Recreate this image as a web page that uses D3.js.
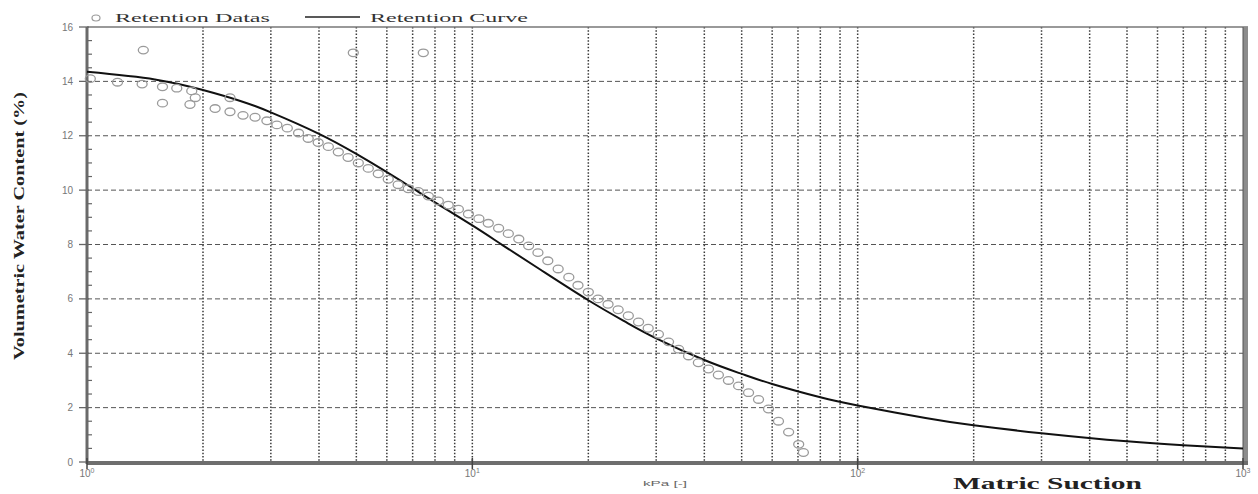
<!DOCTYPE html>
<html><head><meta charset="utf-8">
<script src="https://cdn.jsdelivr.net/npm/d3@7/dist/d3.min.js"></script>
<style>html,body{margin:0;padding:0;background:#fff;}svg{display:block;}</style>
</head><body>
<svg id="chart" width="1258" height="494"></svg>
<script>
// ---- data ----
const dataSuction = [1.02,1.20,1.39,1.57,1.71,1.87,1.91,1.57,1.85,2.35,2.15,2.35,2.54,2.73,2.93,3.11,3.31,3.54,
  3.75,3.98,4.23,4.49,4.76,5.06,5.37,5.70,6.05,6.42,6.82,7.24,7.69,8.16,8.66,9.20,9.77,10.4,11.0,11.7,12.4,13.2,
  14.0,14.8,15.7,16.7,17.8,18.8,20.0,21.2,22.5,23.9,25.4,27.0,28.6,30.4,32.3,34.3,36.4,38.6,41.0,43.5,46.2,49.1,
  52.1,55.3,58.7,62.3,66.2,70.3,72.3,1.40,4.91,7.46];
const dataWater = [14.1,13.97,13.9,13.8,13.75,13.65,13.4,13.2,13.15,13.4,13.0,12.88,12.75,12.68,12.55,12.4,12.28,12.1,
  11.9,11.75,11.6,11.4,11.2,11.0,10.8,10.6,10.4,10.2,10.05,9.95,9.78,9.6,9.45,9.3,9.12,8.95,8.78,8.6,8.4,8.2,
  7.95,7.7,7.4,7.1,6.8,6.5,6.25,6.0,5.8,5.6,5.38,5.15,4.92,4.7,4.42,4.15,3.9,3.65,3.42,3.2,3.0,2.8,
  2.55,2.3,1.95,1.5,1.1,0.65,0.35,15.15,15.05,15.05];
const curveSuction = [1,1.5,2,2.5,3,4,5,6,7,8,10,12,15,20,25,30,40,50,60,80,100,150,200,300,500,700,1000];
const curveWater   = [14.35,14.07,13.68,13.28,12.86,12.07,11.33,10.66,10.07,9.55,8.7,7.97,7.08,5.95,5.15,4.55,3.75,3.24,2.87,2.38,2.08,1.62,1.35,1.06,0.76,0.62,0.5];
const yTicks = [0,2,4,6,8,10,12,14,16];
const xDecades = [1,10,100,1000];
const xExponents = ["0","1","2","3"];
const legendLabels = ["Retention Datas","Retention Curve"];
const yTitle = "Volumetric Water Content (%)";
const xUnit = "kPa [-]";
const xTitle = "Matric Suction";

// ---- layout ----
const svg = d3.select("#chart");
const L = 87, R = 1243, T = 27, B = 462;
const x = d3.scaleLog().domain([1,1000]).range([L,R]);
const y = d3.scaleLinear().domain([0,16]).range([B,T]);

// minor vertical grid lines (dotted)
const minors = [];
for (let d = 1; d < 1000; d *= 10) for (let k = 2; k <= 9; k++) minors.push(d*k);
svg.append("g").selectAll("line").data(minors.concat([10,100])).join("line")
  .attr("x1", d => x(d)).attr("x2", d => x(d)).attr("y1", T).attr("y2", B)
  .attr("stroke", "#3a3a3a").attr("stroke-width", 1.5).attr("stroke-dasharray", "1.5,1.8");

// horizontal grid lines (dashed)
svg.append("g").selectAll("line").data(yTicks.filter(v => v > 0 && v < 16)).join("line")
  .attr("x1", L).attr("x2", R).attr("y1", d => y(d)).attr("y2", d => y(d))
  .attr("stroke", "#555").attr("stroke-width", 1).attr("stroke-dasharray", "5,3");

// frame
svg.append("line").attr("x1", L).attr("x2", R+5).attr("y1", T).attr("y2", T)
  .attr("stroke", "#777").attr("stroke-width", 1.5);
svg.append("rect").attr("x", R).attr("y", T).attr("width", 5).attr("height", B - T + 3).attr("fill", "#8c8c8c");
svg.append("line").attr("x1", R).attr("x2", R).attr("y1", T).attr("y2", B).attr("stroke", "#555").attr("stroke-width", 1);
svg.append("rect").attr("x", L).attr("y", B - 1).attr("width", R - L + 5).attr("height", 4).attr("fill", "#6e6e6e");
svg.append("line").attr("x1", L).attr("x2", L).attr("y1", T).attr("y2", B+2)
  .attr("stroke", "#6a6a6a").attr("stroke-width", 3);

// y axis ticks
const yMinor = d3.range(0, 16.01, 0.5).filter(v => v % 2 !== 0);
svg.append("g").selectAll("line").data(yMinor).join("line")
  .attr("x1", L).attr("x2", L + 5).attr("y1", d => y(d)).attr("y2", d => y(d))
  .attr("stroke", "#666").attr("stroke-width", 1.2);
svg.append("g").selectAll("line").data(yTicks).join("line")
  .attr("x1", L - 8).attr("x2", L + 2).attr("y1", d => y(d)).attr("y2", d => y(d))
  .attr("stroke", "#666").attr("stroke-width", 1.3);
svg.append("g").selectAll("text").data(yTicks).join("text")
  .attr("x", L - 14).attr("y", d => y(d) + 3.5).attr("text-anchor", "end")
  .attr("font-family", "Liberation Sans, Arial, sans-serif").attr("font-size", 10)
  .attr("fill", "#777").text(d => d);

// x axis ticks + labels
svg.append("g").selectAll("line").data(xDecades).join("line")
  .attr("x1", d => x(d)).attr("x2", d => x(d)).attr("y1", B - 4).attr("y2", B + 7)
  .attr("stroke", "#444").attr("stroke-width", 1.5);
const xl = svg.append("g").selectAll("text").data(xDecades).join("text")
  .attr("x", d => x(d)).attr("y", B + 15).attr("text-anchor", "middle")
  .attr("font-family", "Liberation Sans, Arial, sans-serif").attr("font-size", 10).attr("fill", "#777");
xl.append("tspan").text("10");
xl.append("tspan").attr("dy", -4).attr("font-size", 7).text((d, i) => xExponents[i]);

// axis titles
svg.append("text").attr("x", (L + R) / 2).attr("y", 486).attr("text-anchor", "middle")
  .attr("font-family", "Liberation Sans, Arial, sans-serif").attr("font-size", 8).attr("fill", "#666")
  .attr("textLength", 44).attr("lengthAdjust", "spacingAndGlyphs").text(xUnit);
svg.append("text").attr("x", 953).attr("y", 489)
  .attr("font-family", "Liberation Serif, Times New Roman, serif").attr("font-weight", "bold").attr("font-size", 17)
  .attr("fill", "#222").attr("textLength", 189).attr("lengthAdjust", "spacingAndGlyphs").text(xTitle);
svg.append("text").attr("transform", "translate(24,226) rotate(-90)").attr("text-anchor", "middle")
  .attr("font-family", "Liberation Serif, Times New Roman, serif").attr("font-weight", "bold").attr("font-size", 14)
  .attr("fill", "#222").attr("textLength", 268).attr("lengthAdjust", "spacingAndGlyphs").text(yTitle);

// retention curve
const curvePts = curveSuction.map((s, i) => [s, curveWater[i]]);
svg.append("path").datum(curvePts)
  .attr("d", d3.line().x(d => x(d[0])).y(d => y(d[1])).curve(d3.curveNatural))
  .attr("fill", "none").attr("stroke", "#111").attr("stroke-width", 2);

// retention data points
const pts = dataSuction.map((s, i) => [s, dataWater[i]]);
svg.append("g").selectAll("ellipse").data(pts).join("ellipse")
  .attr("cx", d => x(d[0])).attr("cy", d => y(d[1])).attr("rx", 5).attr("ry", 3.8)
  .attr("fill", "none").attr("stroke", "#9a9a9a").attr("stroke-width", 1.3);

// legend
const lg = svg.append("g").attr("font-family", "Liberation Serif, Times New Roman, serif").attr("font-size", 13).attr("fill", "#333");
lg.append("ellipse").attr("cx", 96).attr("cy", 18).attr("rx", 4).attr("ry", 3)
  .attr("fill", "none").attr("stroke", "#9a9a9a").attr("stroke-width", 1.2);
lg.append("text").attr("x", 115).attr("y", 22).attr("textLength", 155).attr("lengthAdjust", "spacingAndGlyphs").text(legendLabels[0]);
lg.append("line").attr("x1", 305).attr("x2", 360).attr("y1", 17).attr("y2", 17).attr("stroke", "#222").attr("stroke-width", 1.5);
lg.append("text").attr("x", 370).attr("y", 22).attr("textLength", 158).attr("lengthAdjust", "spacingAndGlyphs").text(legendLabels[1]);
</script>
</body></html>
